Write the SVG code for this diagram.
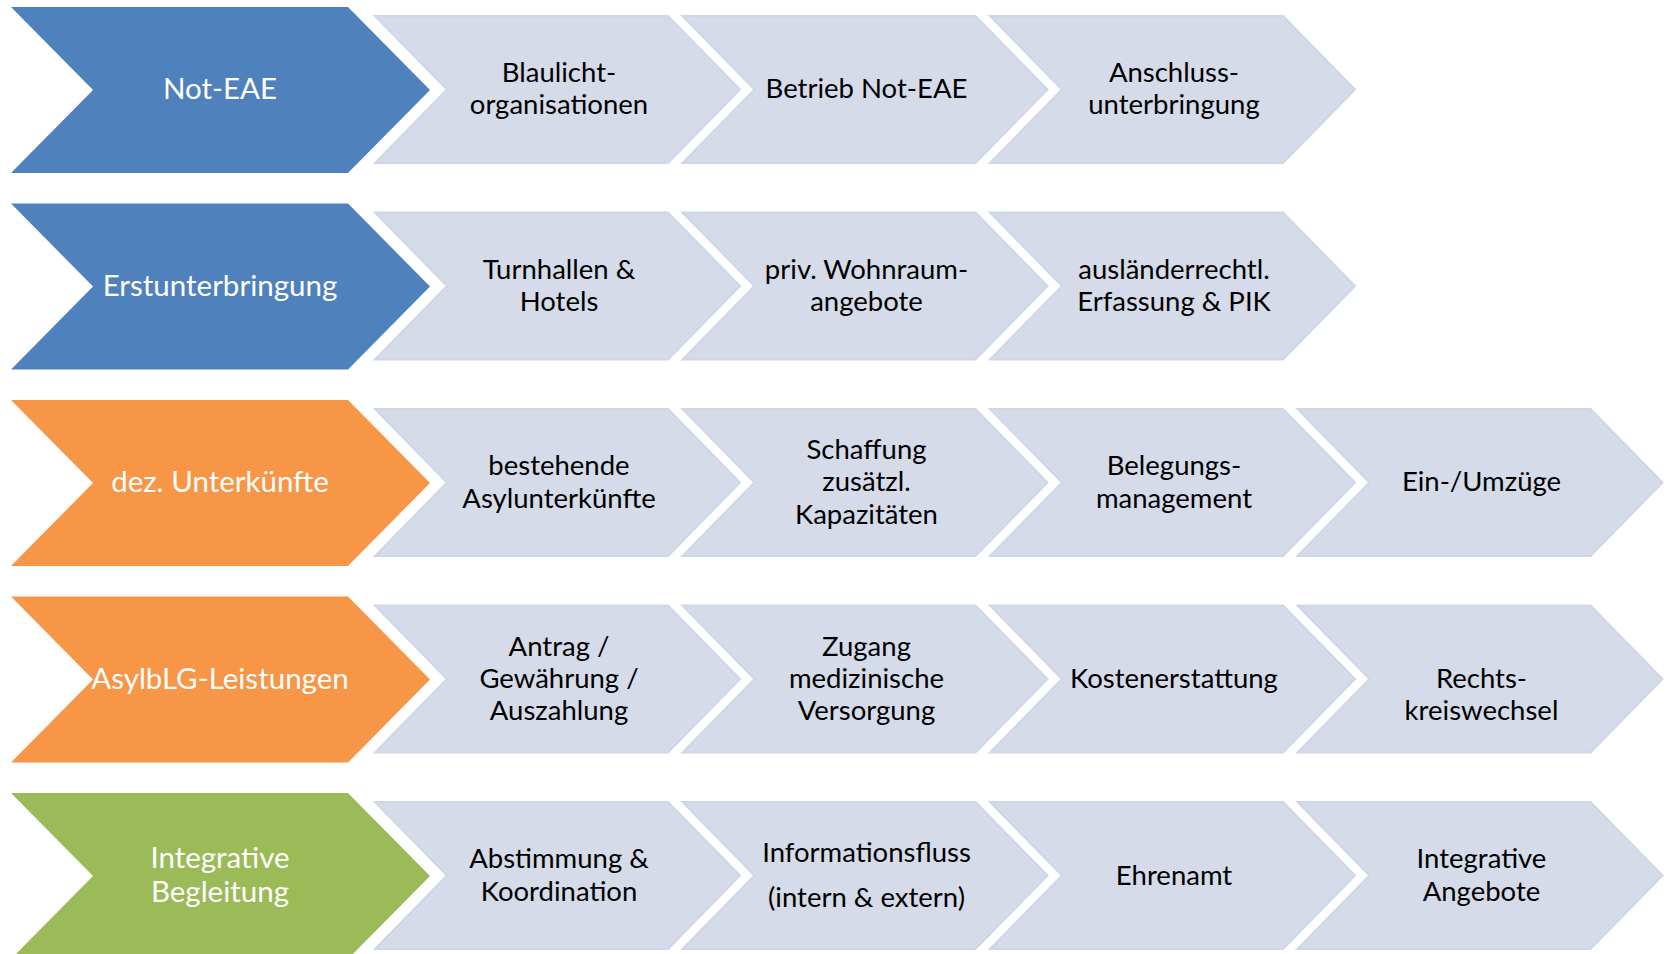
<svg xmlns="http://www.w3.org/2000/svg" width="1669" height="954" viewBox="0 0 1669 954">
<defs>
<style>
.bg{fill:#ffffff}
.blue{fill:#4F81BD}
.orange{fill:#F79646}
.green{fill:#9BBB59}
.step{fill:#D5DBE9;stroke:#CFD6E5;stroke-width:2;stroke-linejoin:miter}
text{font-family:Lato,"Open Sans","Liberation Sans",sans-serif;font-size:27.5px;text-anchor:middle}
.w{fill:#ffffff;font-size:29.5px}
.k{fill:#000000}
</style>
</defs>
<rect class="bg" x="0" y="0" width="1669" height="954"/>
<g id="connectors"></g>

<!-- Row 1 -->
<g id="row1-main"><polygon class="blue" points="11,7 348,7 430,90 348,173 11,173 93,90"/><text class="w" x="220" y="99">Not-EAE</text></g>
<g id="row1-s1"><polygon class="step" points="375,16 668,16 740,89.5 668,163 375,163 447,89.5"/><text class="k" x="559" y="82">Blaulicht-</text><text class="k" x="559" y="114">organisationen</text></g>
<g id="row1-s2"><polygon class="step" points="682.5,16 975.5,16 1047.5,89.5 975.5,163 682.5,163 754.5,89.5"/><text class="k" x="866.5" y="98">Betrieb Not-EAE</text></g>
<g id="row1-s3"><polygon class="step" points="990,16 1283,16 1355,89.5 1283,163 990,163 1062,89.5"/><text class="k" x="1174" y="82">Anschluss-</text><text class="k" x="1174" y="114">unterbringung</text></g>

<!-- Row 2 -->
<g id="row2-main"><polygon class="blue" points="11,203.5 348,203.5 430,286.5 348,369.5 11,369.5 93,286.5"/><text class="w" x="220" y="296">Erstunterbringung</text></g>
<g id="row2-s1"><polygon class="step" points="375,212.5 668,212.5 740,286 668,359.5 375,359.5 447,286"/><text class="k" x="559" y="279">Turnhallen &amp;</text><text class="k" x="559" y="311">Hotels</text></g>
<g id="row2-s2"><polygon class="step" points="682.5,212.5 975.5,212.5 1047.5,286 975.5,359.5 682.5,359.5 754.5,286"/><text class="k" x="866.5" y="279">priv. Wohnraum-</text><text class="k" x="866.5" y="311">angebote</text></g>
<g id="row2-s3"><polygon class="step" points="990,212.5 1283,212.5 1355,286 1283,359.5 990,359.5 1062,286"/><text class="k" x="1174" y="279">ausländerrechtl.</text><text class="k" x="1174" y="311">Erfassung &amp; PIK</text></g>

<!-- Row 3 -->
<g id="row3-main"><polygon class="orange" points="11,400 348,400 430,483 348,566 11,566 93,483"/><text class="w" x="220" y="492">dez. Unterkünfte</text></g>
<g id="row3-s1"><polygon class="step" points="375,409 668,409 740,482.5 668,556 375,556 447,482.5"/><text class="k" x="559" y="475">bestehende</text><text class="k" x="559" y="508">Asylunterkünfte</text></g>
<g id="row3-s2"><polygon class="step" points="682.5,409 975.5,409 1047.5,482.5 975.5,556 682.5,556 754.5,482.5"/><text class="k" x="866.5" y="459">Schaffung</text><text class="k" x="866.5" y="491">zusätzl.</text><text class="k" x="866.5" y="524">Kapazitäten</text></g>
<g id="row3-s3"><polygon class="step" points="990,409 1283,409 1355,482.5 1283,556 990,556 1062,482.5"/><text class="k" x="1174" y="475">Belegungs-</text><text class="k" x="1174" y="508">management</text></g>
<g id="row3-s4"><polygon class="step" points="1297.5,409 1590.5,409 1662.5,482.5 1590.5,556 1297.5,556 1369.5,482.5"/><text class="k" x="1481.5" y="491">Ein-/Umzüge</text></g>

<!-- Row 4 -->
<g id="row4-main"><polygon class="orange" points="11,596.5 348,596.5 430,679.5 348,762.5 11,762.5 93,679.5"/><text class="w" x="220" y="689">AsylbLG-Leistungen</text></g>
<g id="row4-s1"><polygon class="step" points="375,605.5 668,605.5 740,679 668,752.5 375,752.5 447,679"/><text class="k" x="559" y="656">Antrag /</text><text class="k" x="559" y="688">Gewährung /</text><text class="k" x="559" y="720">Auszahlung</text></g>
<g id="row4-s2"><polygon class="step" points="682.5,605.5 975.5,605.5 1047.5,679 975.5,752.5 682.5,752.5 754.5,679"/><text class="k" x="866.5" y="656">Zugang</text><text class="k" x="866.5" y="688">medizinische</text><text class="k" x="866.5" y="720">Versorgung</text></g>
<g id="row4-s3"><polygon class="step" points="990,605.5 1283,605.5 1355,679 1283,752.5 990,752.5 1062,679"/><text class="k" x="1174" y="688">Kostenerstattung</text></g>
<g id="row4-s4"><polygon class="step" points="1297.5,605.5 1590.5,605.5 1662.5,679 1590.5,752.5 1297.5,752.5 1369.5,679"/><text class="k" x="1481.5" y="688">Rechts-</text><text class="k" x="1481.5" y="720">kreiswechsel</text></g>

<!-- Row 5 -->
<g id="row5-main"><polygon class="green" points="11,793 348,793 430,876 348,959 11,959 93,876"/><text class="w" x="220" y="868">Integrative</text><text class="w" x="220" y="902">Begleitung</text></g>
<g id="row5-s1"><polygon class="step" points="375,802 668,802 740,875.5 668,949 375,949 447,875.5"/><text class="k" x="559" y="868">Abstimmung &amp;</text><text class="k" x="559" y="901">Koordination</text></g>
<g id="row5-s2"><polygon class="step" points="682.5,802 975.5,802 1047.5,875.5 975.5,949 682.5,949 754.5,875.5"/><text class="k" x="866.5" y="862">Informationsfluss</text><text class="k" x="866.5" y="907">(intern &amp; extern)</text></g>
<g id="row5-s3"><polygon class="step" points="990,802 1283,802 1355,875.5 1283,949 990,949 1062,875.5"/><text class="k" x="1174" y="885">Ehrenamt</text></g>
<g id="row5-s4"><polygon class="step" points="1297.5,802 1590.5,802 1662.5,875.5 1590.5,949 1297.5,949 1369.5,875.5"/><text class="k" x="1481.5" y="868">Integrative</text><text class="k" x="1481.5" y="901">Angebote</text></g>
</svg>
